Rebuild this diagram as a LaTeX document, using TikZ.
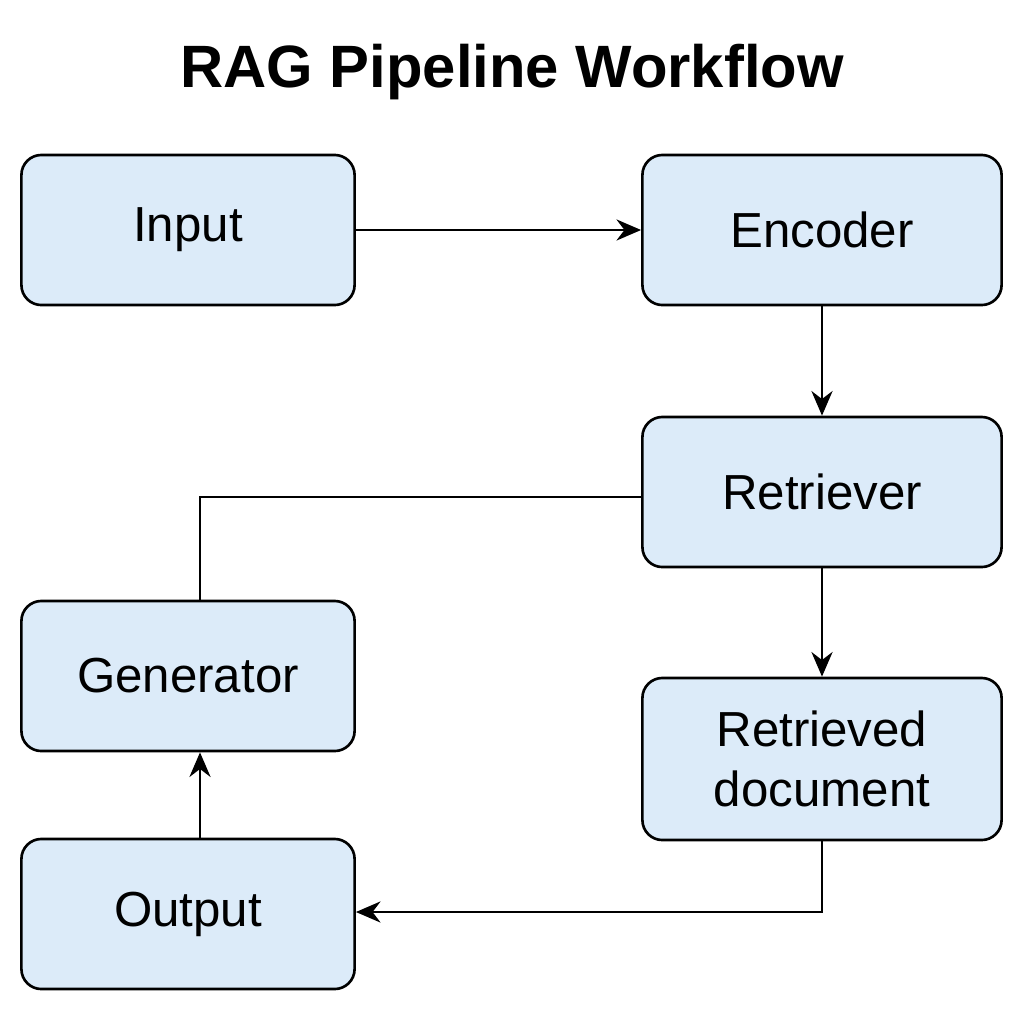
\documentclass[tikz,border=0pt]{standalone}
\usepackage{fontspec}
\setmainfont{Liberation Sans}
\usetikzlibrary{arrows.meta}
\definecolor{boxfill}{HTML}{DCEBF9}
\begin{document}
\begin{tikzpicture}[x=0.01cm,y=-0.01cm,
  box/.style={draw=black,fill=boxfill,line width=0.75pt,rounded corners=0.2cm,minimum width=3.33cm,minimum height=1.5cm,font=\fontsize{14}{16}\selectfont,align=center},
  wide/.style={minimum width=3.59cm},
  arr/.style={line width=0.7pt,-{Stealth[length=7pt,width=6pt]}},
  ln/.style={line width=0.7pt}]
\useasboundingbox (0,0) rectangle (1024,1024);
\node[font=\bfseries\fontsize{17}{20}\selectfont] (title) at (512,72) {RAG Pipeline Workflow};
\node[box] (input) at (188,230) {Input};
\node[box,wide] (enc) at (822,230) {Encoder};
\node[box,wide] (ret) at (822,492) {Retriever};
\node[box,wide,minimum height=1.62cm,font=\fontsize{14}{17}\selectfont] (doc) at (822,759) {Retrieved\\document};
\node[box] (gen) at (188,676) {Generator};
\node[box] (out) at (188,914) {Output};
\draw[arr] (input) -- (enc);
\draw[arr] (enc) -- (ret);
\draw[arr] (ret) -- (doc);
\draw[ln] (ret.west |- 0,497) -| (gen.north -| 200,0);
\draw[arr] (doc.south) |- (out.east |- 0,912);
\draw[arr] (out.north -| 200,0) -- (gen.south -| 200,0);
\end{tikzpicture}
\end{document}
